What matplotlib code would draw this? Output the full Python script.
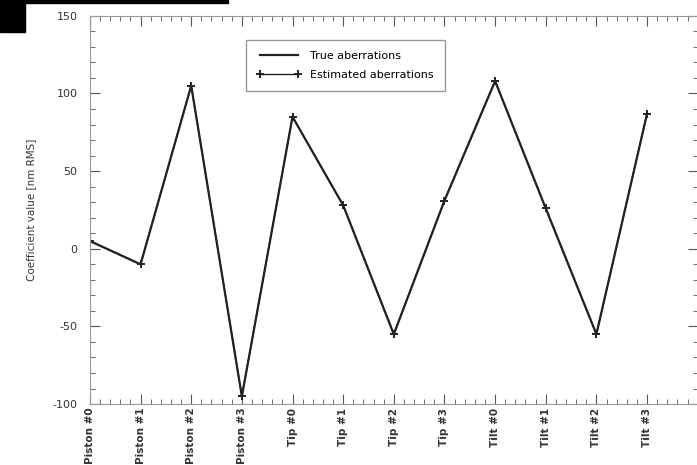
import matplotlib
matplotlib.use("Agg")
import matplotlib.pyplot as plt
from matplotlib.patches import Rectangle
from matplotlib.ticker import MultipleLocator, AutoMinorLocator

MODES = ["Piston #0", "Piston #1", "Piston #2", "Piston #3",
         "Tip #0", "Tip #1", "Tip #2", "Tip #3",
         "Tilt #0", "Tilt #1", "Tilt #2", "Tilt #3"]
TRUE_COEFFS = [5, -10, 105, -95, 85, 28, -55, 31, 108, 26, -55, 87]
EST_COEFFS = [5, -10, 105, -95, 85, 28, -55, 31, 108, 26, -55, 87]

plt.rcParams["axes.unicode_minus"] = False

fig = plt.figure(figsize=(6.97, 4.65), dpi=100)
ax = fig.add_axes([0.129, 0.131, 0.872, 0.835])

x = list(range(len(MODES)))
ax.plot(x, TRUE_COEFFS, color="#222222", lw=1.6, label="True aberrations")
ax.plot(x, EST_COEFFS, color="#222222", lw=1.0, marker="+", ms=6, mew=1.4,
        label="Estimated aberrations")

ax.set_xlim(0, 12)
ax.set_ylim(-100, 150)
ax.set_xticks(x)
ax.set_xticklabels(MODES, rotation=90, fontsize=7.5, fontweight="bold", va="top")
ax.xaxis.set_minor_locator(AutoMinorLocator(5))
ax.yaxis.set_major_locator(MultipleLocator(50))
ax.yaxis.set_minor_locator(MultipleLocator(10))
ax.tick_params(which="both", direction="in", top=True, right=True, labelsize=8,
               colors="#555555", labelcolor="#333333")
ax.tick_params(axis="x", labelsize=7.5, pad=2.5)
ax.tick_params(axis="y", pad=9)
ax.tick_params(which="major", length=7)
ax.tick_params(which="minor", length=3.5)
for s in ax.spines.values():
    s.set_color("#999999")
ax.set_ylabel("Coefficient value [nm RMS]", fontsize=7.5, color="#333333", labelpad=12)

leg = ax.legend(loc="upper left", bbox_to_anchor=(0.256, 0.937), fontsize=8,
                numpoints=2, fancybox=False, framealpha=1, handlelength=4.0,
                borderpad=1.0, labelspacing=0.8, handletextpad=0.8,
                borderaxespad=0)
leg.get_frame().set_edgecolor("#999999")

# dark corner block and strip along the top edge
fig.patches.append(Rectangle((0, 1 - 32 / 465), 25 / 697, 32 / 465,
                             transform=fig.transFigure, color="black", zorder=10))
fig.patches.append(Rectangle((0, 1 - 3 / 465), 228 / 697, 3 / 465,
                             transform=fig.transFigure, color="black", zorder=10))

fig.savefig("out.png", dpi=100)
